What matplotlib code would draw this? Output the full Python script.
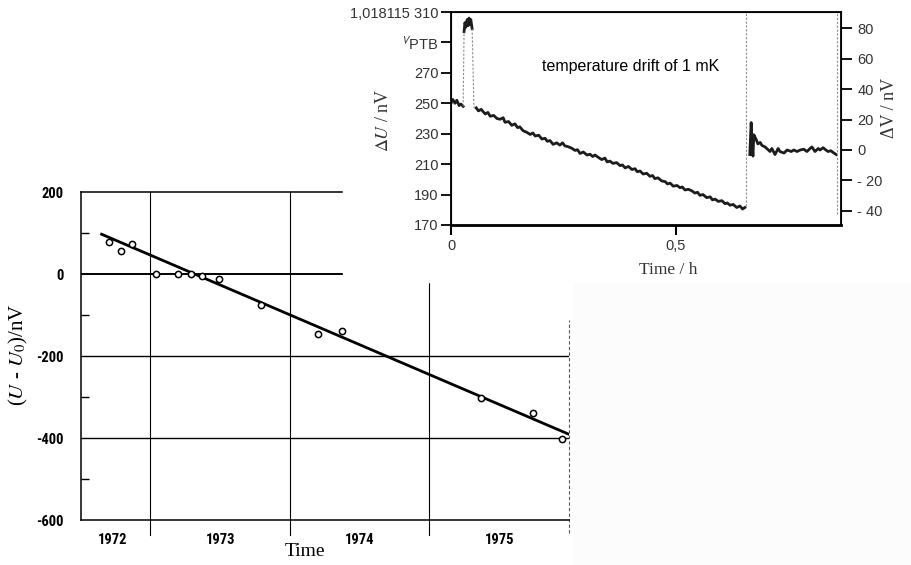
import numpy as np
import matplotlib
matplotlib.use("Agg")
import matplotlib.pyplot as plt
from matplotlib.patches import Rectangle

plt.rcParams['mathtext.fontset'] = 'stix'

# ---------------- data: long term drift (lower chart) ----------------
years = [1972.70, 1972.79, 1972.87, 1973.04, 1973.20, 1973.29, 1973.37, 1973.49,
         1973.79, 1974.20, 1974.37, 1975.37, 1975.74, 1975.95]
drift_nv = [78, 55, 72, 1, 0, -1, -6, -13, -75, -147, -139, -303, -340, -403]
fit_years = [1972.65, 1976.0]
fit_nv = [97, -391]
year_labels = ['1972', '1973', '1974', '1975']
year_label_pos = [1972.73, 1973.5, 1974.5, 1975.5]
year_bounds = [1973, 1974, 1975]

# ---------------- data: short term record (upper chart) ----------------
# before the jump, left scale
t_a = [0.000, 0.004, 0.009, 0.013, 0.018, 0.022, 0.027]
u_a = [250, 252.5, 250, 252, 248.5, 249.5, 248]
# short excursion, left scale
t_b = [0.029, 0.031, 0.033, 0.036, 0.038, 0.040, 0.042, 0.044, 0.047]
u_b = [297, 303, 300, 305, 301, 306, 302, 305, 299]
# temperature drift, left scale
t_c = [0.056, 0.061, 0.067, 0.076, 0.082, 0.087, 0.095, 0.102, 0.109, 0.116,
       0.120, 0.128, 0.135, 0.142, 0.148, 0.153, 0.160, 0.168, 0.176, 0.182,
       0.187, 0.195, 0.202, 0.209, 0.214, 0.220, 0.227, 0.235, 0.242, 0.248,
       0.253, 0.260, 0.268, 0.276, 0.281, 0.287, 0.294, 0.302, 0.309, 0.315,
       0.320, 0.327, 0.335, 0.342, 0.347, 0.353, 0.360, 0.368, 0.376, 0.381,
       0.387, 0.394, 0.402, 0.409, 0.414, 0.420, 0.427, 0.435, 0.442, 0.448,
       0.453, 0.460, 0.468, 0.476, 0.481, 0.487, 0.494, 0.502, 0.509, 0.514,
       0.520, 0.527, 0.535, 0.542, 0.548, 0.553, 0.560, 0.568, 0.576, 0.581,
       0.587, 0.594, 0.602, 0.609, 0.614, 0.620, 0.627, 0.635, 0.642, 0.648,
       0.653]
u_c = [247, 245, 246, 243, 244, 241.5, 242, 240, 239.5, 240.5,
       237.5, 238, 235.5, 236.5, 234, 234.5, 232, 231, 229.5, 230.5,
       228.5, 229, 226.5, 227, 225, 225.5, 223, 224, 222.5, 224,
       222, 221.5, 220.5, 219, 219.5, 217, 218, 216, 216.5, 215,
       216, 214.5, 213, 214, 211.5, 212, 210.5, 211, 209, 209.5,
       207.5, 208.5, 206.5, 207, 205, 205.5, 203.5, 204, 202, 202.5,
       200.5, 201, 199, 198.5, 197, 197.5, 195.5, 196, 194.5, 195,
       193, 193.5, 192.5, 191, 191.5, 189.5, 190, 188, 188.5, 186.5,
       187, 185.5, 186, 184, 184.5, 183, 183.5, 181.5, 182.5, 180.5,
       181.5]
# after the jump, right scale
t_d = [0.664, 0.667, 0.669, 0.671, 0.673, 0.678, 0.682, 0.687, 0.691, 0.698,
       0.709, 0.713, 0.720, 0.727, 0.731, 0.740, 0.747, 0.756, 0.762, 0.769,
       0.776, 0.784, 0.791, 0.798, 0.802, 0.809, 0.816, 0.820, 0.827, 0.833,
       0.838, 0.844, 0.851, 0.856]
v_d = [-3, 18, 5, -4, 10, 7, 4, 5, 3, 2,
       -1, 1, -3, 1, -1, -2, 0, -1, 0, -1,
       0, 0.5, -1, 1, 2, -1, 1, 0, 1.5, 0,
       -1, -0.5, -2, -3]
event_t = [0.655, 0.858]
left_ticks = [170, 190, 210, 230, 250, 270, 290, 310]
left_labels = ['170', '190', '210', '230', '250', '270', r'${}^{\mathsf{V}}$PTB', '1,018115 310']
right_ticks = [-40, -20, 0, 20, 40, 60, 80]
right_labels = ['- 40', '- 20', '0', '20', '40', '60', '80']

W, H = 911, 565
fig = plt.figure(figsize=(W / 100, H / 100), dpi=100)

def fx(px):
    return px / W

def fy(py):
    return 1 - py / H

###########################################################################
# lower chart
ax = fig.add_axes([fx(80.7), fy(520), fx(569 - 80.7), (520 - 192) / H])
ax.set_xlim(1972.5, 1976.0)
ax.set_ylim(-600, 200)
for s in ['left', 'bottom', 'top']:
    ax.spines[s].set_linewidth(1.1)
ax.spines['right'].set_visible(False)

ax.axhline(0, color='black', lw=1.4)
for v in [-200, -400]:
    ax.axhline(v, color='black', lw=1.0)
for yb in year_bounds:
    ax.axvline(yb, ymin=-0.045, ymax=1, color='black', lw=0.8, clip_on=False)
ax.axvline(1976.0, ymin=-0.04, ymax=0.61, color='0.35', lw=0.8, ls=(0, (3, 2)), clip_on=False)

ax.plot(fit_years, fit_nv, color='black', lw=2.0)
ax.plot(years, drift_nv, 'o', ms=4.5, mfc='white', mec='black', mew=1.1)

narrow = ['Roboto Condensed', 'Roboto', 'DejaVu Sans']
ax.set_yticks([200, 0, -200, -400, -600])
ax.set_yticklabels(['200', '0', '-200', '-400', '-600'], family=narrow, fontsize=10.5, fontweight='bold')
ax.set_yticks([100, -100, -300, -500], minor=True)
ax.tick_params(axis='y', which='major', length=0, pad=12)
ax.tick_params(axis='y', which='minor', direction='in', length=6, width=1)
ax.set_xticks(year_label_pos)
ax.set_xticklabels(year_labels, family=narrow, fontsize=10.5, fontweight='bold')
ax.set_xticks([1973.5, 1974.5, 1975.5], minor=True)
ax.tick_params(axis='x', which='major', length=0, pad=9)
ax.tick_params(axis='x', which='minor', direction='in', length=5, width=1)

fig.text(fx(18), fy(355), r'($U$ - $U_0$)/nV', rotation=90, ha='center', va='center',
         family='Liberation Serif', fontsize=15)
fig.text(fx(305), fy(552), 'Time', ha='center', va='center', family='Liberation Serif', fontsize=14)

# cover patches (collage of two scans)
fig.patches.append(Rectangle((fx(574), 0), fx(W - 574), 1 - fy(282), transform=fig.transFigure,
                             color='#fcfcfc', zorder=1))
fig.patches.append(Rectangle((fx(343), fy(282)), fx(W - 343), 282 / H, transform=fig.transFigure,
                             color='white', zorder=1))

###########################################################################
# upper chart
ax2 = fig.add_axes([fx(451), fy(225), fx(840.7 - 451), (225 - 12) / H])
ax2.set_zorder(3)
ax2.set_xlim(0, (840.7 - 451) / 450)
ax2.set_ylim(170, 310)
for s in ax2.spines.values():
    s.set_linewidth(1.3)
ax2.spines['bottom'].set_linewidth(2)

ax3 = ax2.twinx()
ax3.set_zorder(4)
ax3.patch.set_visible(False)
ax3.set_ylim(-49.3, 90.7)

trace = dict(color='#1c1c1c', lw=2.0)
ax2.plot(t_a, u_a, **trace)
ax2.plot(t_b, u_b, **trace)
ax2.plot(t_c, u_c, **trace)
ax3.plot(t_d, v_d, **trace)
# fast transitions are only faint in the record
faint = dict(color='0.55', lw=0.8, ls=(0, (2, 1.5)))
ax2.plot([t_a[-1], t_b[0]], [u_a[-1], u_b[0]], **faint)
ax2.plot([t_b[-1], t_b[-1] + 0.004, t_c[0]], [u_b[-1], u_c[0], u_c[0]], **faint)
ax2.axvline(event_t[0], ymin=0.09, ymax=1, **faint)
ax3.axvline(event_t[1], ymin=0.05, ymax=1, **faint)

sans = 'Liberation Sans'
ax2.set_yticks(left_ticks)
ax2.set_yticklabels(left_labels, family=sans, fontsize=10.5, color='#333333')
ax2.tick_params(axis='y', direction='out', length=7, width=1.3, pad=2)
ax2.set_xticks([0, 0.5])
ax2.set_xticklabels(['0', '0,5'], family=sans, fontsize=10.5, color='#333333')
ax2.tick_params(axis='x', direction='out', length=7, width=1.5, pad=3)
ax3.set_yticks(right_ticks)
ax3.set_yticklabels(right_labels, family=sans, fontsize=10.5, color='#333333')
ax3.tick_params(axis='y', direction='out', length=8, width=1.3, pad=4)

fig.text(fx(384), fy(120), r'$\Delta U$ / nV', rotation=90, ha='center', va='center',
         family='Liberation Serif', fontsize=13, color='#333333', zorder=10)
fig.text(fx(890), fy(108), 'ΔV / nV', rotation=90, ha='center', va='center',
         family='Liberation Serif', fontsize=13, color='#333333', zorder=10)
fig.text(fx(668), fy(270), 'Time / h', ha='center', va='center',
         family='Liberation Serif', fontsize=12.5, color='#333333', zorder=10)
fig.text(fx(631), fy(67), 'temperature drift of 1 mK', ha='center', va='center',
         family=sans, fontsize=11.5, color='black', zorder=10)

plt.savefig('out.png', dpi=100)
